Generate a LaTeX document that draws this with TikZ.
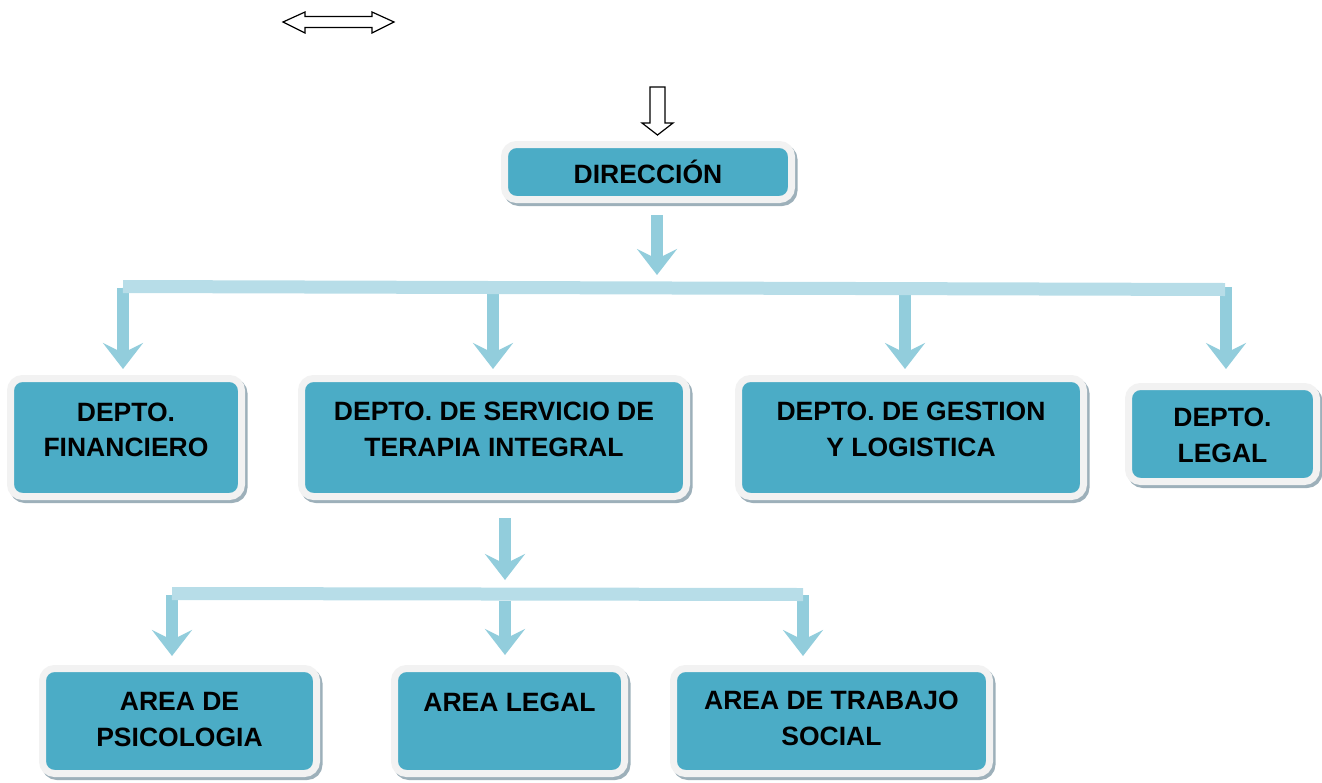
\documentclass[tikz,border=0pt]{standalone}
\usepackage{fontspec}
\setmainfont{Liberation Sans}
\usetikzlibrary{arrows.meta}
\definecolor{tealbox}{HTML}{4BACC6}
\definecolor{framec}{HTML}{F2F2F2}
\definecolor{shadowc}{HTML}{9DB0BA}
\definecolor{arrowc}{HTML}{92CDDC}
\definecolor{barc}{HTML}{B7DDE8}
\tikzset{
  orgbox/.style={rectangle, rounded corners=12pt, fill=tealbox, draw=framec, line width=7pt, inner sep=0pt,
    preaction={draw=shadowc, fill=shadowc, line width=7pt, transform canvas={shift={(2.5pt,-3pt)}}}},
  lbl/.style={font=\bfseries\fontsize{26.5}{35.5}\selectfont, align=center, text=black, inner sep=0pt},
  flow/.style={draw=arrowc, line width=12.5pt, -{Stealth[length=26pt,width=40pt,inset=10pt]}},
  barline/.style={draw=barc, line width=13pt},
  hollow/.style={draw=black, fill=white, line width=1.2pt, line join=miter},
}
\begin{document}
\begin{tikzpicture}[x=1pt, y=-1pt]
\useasboundingbox (0,0) rectangle (1322,782);

% hollow arrows at the top
\draw[hollow] (283,22) -- (305,12) -- (305,16.5) -- (372,16.5) -- (372,12) -- (394,22)
  -- (372,33) -- (372,27.5) -- (305,27.5) -- (305,33) -- cycle;
\draw[hollow] (650,87) -- (665,87) -- (665,123) -- (673,123) -- (657.5,135) -- (642,123) -- (650,123) -- cycle;

% boxes
\node[orgbox, minimum width=287pt, minimum height=55pt,
  label={[lbl]center:DIRECCIÓN}] (dir) at (648,172) {};
\node[orgbox, minimum width=231pt, minimum height=118pt,
  label={[lbl, yshift=7.5pt]center:{DEPTO.\\FINANCIERO}}] (fin) at (126,437.5) {};
\node[orgbox, minimum width=385pt, minimum height=118pt,
  label={[lbl, yshift=8pt]center:{DEPTO. DE SERVICIO DE\\TERAPIA INTEGRAL}}] (serv) at (494,437.5) {};
\node[orgbox, minimum width=345pt, minimum height=118pt,
  label={[lbl, yshift=8pt]center:{DEPTO. DE GESTION\\Y LOGISTICA}}] (gest) at (911,437.5) {};
\node[orgbox, minimum width=188pt, minimum height=95pt,
  label={[lbl, yshift=-1.5pt]center:{DEPTO.\\LEGAL}}] (leg) at (1222.5,434) {};
\node[orgbox, minimum width=274pt, minimum height=105pt,
  label={[lbl, yshift=1.5pt]center:{AREA DE\\PSICOLOGIA}}] (psic) at (179.5,721) {};
\node[orgbox, minimum width=230pt, minimum height=105pt,
  label={[lbl, yshift=19pt]center:AREA LEGAL}] (alegal) at (509.5,721) {};
\node[orgbox, minimum width=316pt, minimum height=105pt,
  label={[lbl, yshift=2.5pt]center:{AREA DE TRABAJO\\SOCIAL}}] (trab) at (831.5,721) {};

% connector coordinates
\coordinate (d0) at (657,215);   \coordinate (d1) at (657,275);
\coordinate (b1l) at (123,286.5); \coordinate (b1r) at (1225,289.5);
\coordinate (f0) at (123,288);   \coordinate (f1) at (123,369);
\coordinate (s0) at (493,288);   \coordinate (s1) at (493,369);
\coordinate (g0) at (905,288);   \coordinate (g1) at (905,369);
\coordinate (l0) at (1226,287);  \coordinate (l1) at (1226,369);
\coordinate (t0) at (505,518);   \coordinate (t1) at (505,580);
\coordinate (b2l) at (172,593.5); \coordinate (b2r) at (803,594.5);
\coordinate (p0) at (172,595);   \coordinate (p1) at (172,656);
\coordinate (a0) at (505,601);   \coordinate (a1) at (505,655);
\coordinate (w0) at (803,595);   \coordinate (w1) at (803,656);

% connectors
\draw[flow] (d0) -- (d1);
\draw[flow] (f0) -- (f1);
\draw[flow] (s0) -- (s1);
\draw[flow] (g0) -- (g1);
\draw[flow] (l0) -- (l1);
\draw[barline] (b1l) -- (b1r);
\draw[flow] (t0) -- (t1);
\draw[flow] (p0) -- (p1);
\draw[flow] (a0) -- (a1);
\draw[flow] (w0) -- (w1);
\draw[barline] (b2l) -- (b2r);
\end{tikzpicture}
\end{document}
